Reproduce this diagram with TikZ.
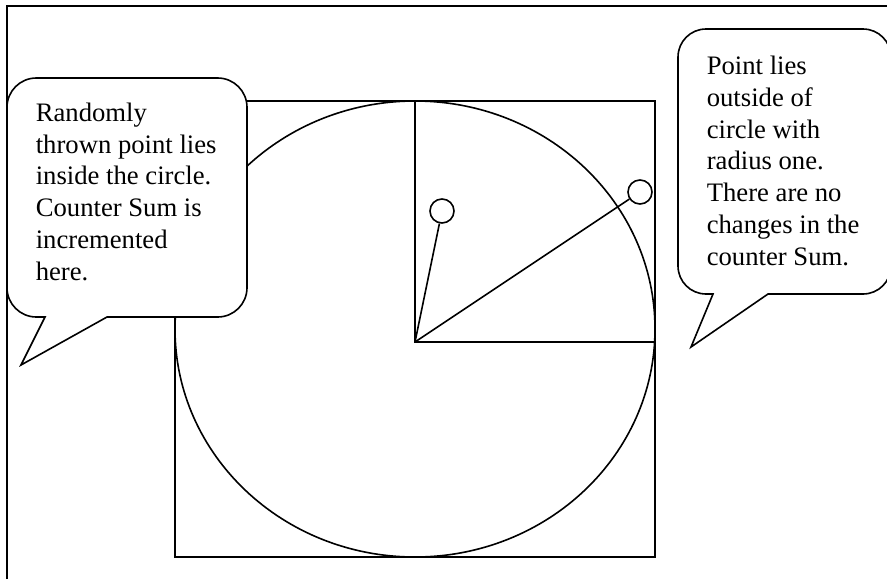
\documentclass[tikz,border=0pt]{standalone}
\usepackage{fontspec}
\setmainfont{Liberation Serif}
\usetikzlibrary{positioning}
\tikzset{
  % one line weight for the whole sketch
  every picture/.append style = {line width=1.2pt},
  bubble/.style    = {draw, fill=white},
  bubbletext/.style = {inner sep=0pt, align=left, anchor=base west,
                       font=\fontsize{20}{23.8}\selectfont},
  hit/.style       = {circle, draw, fill=white, inner sep=0pt, minimum size=18pt},
}

\begin{document}
\begin{tikzpicture}[x=0.75pt, y=-0.75pt]
  \useasboundingbox (0,0) rectangle (887,579);
  \clip (0,0) rectangle (887,579);
  % frame, only top and left edges show
  \draw (7,579) -- (7,6) -- (887,6);
  % unit square and circle
  \draw (175,101) rectangle (655,557);
  \draw (415,329) ellipse [x radius=240, y radius=228];
  % first quadrant
  \coordinate (o) at (415,342);
  \draw (415,101) -- (o) -- (655,342);
  \node[hit] (pin) at (442,211) {};
  \node[hit] (pout) at (640,192) {};
  \draw (o) -- (pin);
  \draw (o) -- (pout);
  % left callout (node base = last line)
  \draw[bubble] (45,317) -- (21,365) -- (107,317) {[rounded corners=22pt]
      -- (247,317) -- (247,78) -- (7,78) -- (7,317)} -- cycle;
  \node[bubbletext] (intext) at (35,280)
      {Randomly\\thrown point lies\\inside the circle.\\Counter Sum is\\incremented\\here.};
  % right callout
  \draw[bubble] (713,294) -- (691,347) -- (768,294) {[rounded corners=21pt]
      -- (891,294) -- (891,29) -- (678,29) -- (678,294)} -- cycle;
  \node[bubbletext] (outtext) at (706,265)
      {Point lies\\outside of\\circle with\\radius one.\\There are no\\changes in the\\counter Sum.};
\end{tikzpicture}
\end{document}
